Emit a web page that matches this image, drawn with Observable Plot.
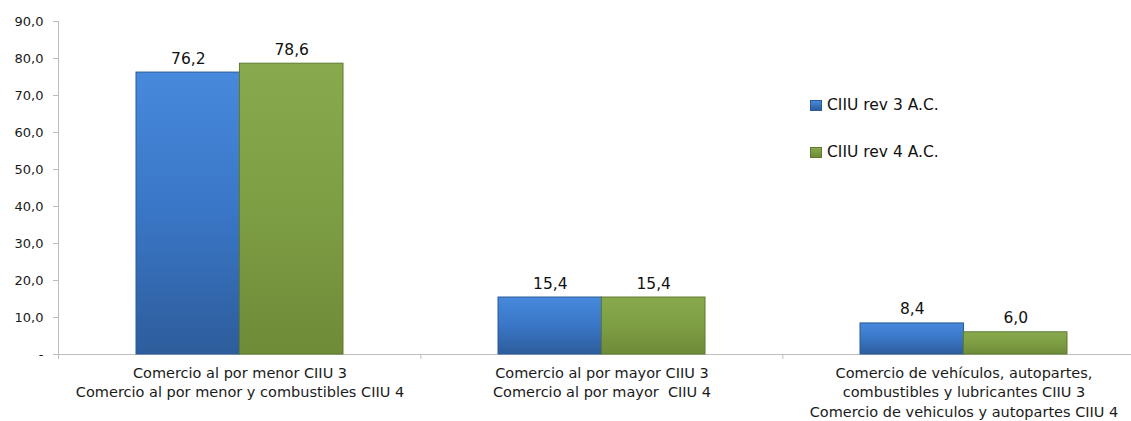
<!DOCTYPE html>
<html>
<head>
<meta charset="utf-8">
<script src="https://cdn.jsdelivr.net/npm/d3@7"></script>
<script src="https://cdn.jsdelivr.net/npm/@observablehq/plot@0.6"></script>
<style>
  body { margin: 0; background: #fff; font-family: "DejaVu Sans", Verdana, sans-serif; }
  #wrap { position: relative; width: 1131px; height: 421px; }
  #legend { position: absolute; left: 810px; top: 93px; font-size: 15.5px; color: #111; }
  #legend .row { display: flex; align-items: center; height: 24px; margin-bottom: 23px; }
  #legend .sw { width: 12px; height: 11px; margin-right: 5px; }
</style>
</head>
<body>
<svg width="0" height="0" style="position:absolute">
  <defs>
    <linearGradient id="gBlue" x1="0" y1="0" x2="0" y2="1">
      <stop offset="0" stop-color="#4789dc"/>
      <stop offset="0.5" stop-color="#3a76c6"/>
      <stop offset="1" stop-color="#2d5d9b"/>
    </linearGradient>
    <linearGradient id="gGreen" x1="0" y1="0" x2="0" y2="1">
      <stop offset="0" stop-color="#89a94d"/>
      <stop offset="0.5" stop-color="#7e9e44"/>
      <stop offset="1" stop-color="#6e8b38"/>
    </linearGradient>
  </defs>
</svg>
<div id="wrap">
  <div id="chart"></div>
  <div id="legend"></div>
</div>
<script>
// ---- data ----
const categories = ["menor", "mayor", "vehiculos"];
const categoryLabels = [
  "Comercio al por menor CIIU 3\nComercio al por menor y combustibles CIIU 4",
  "Comercio al por mayor CIIU 3\nComercio al por mayor  CIIU 4",
  "Comercio de vehículos, autopartes,\ncombustibles y lubricantes CIIU 3\nComercio de vehiculos y autopartes CIIU 4"
];
const seriesNames = ["CIIU rev 3 A.C.", "CIIU rev 4 A.C."];
const rev3Values = [76.2, 15.4, 8.4];
const rev4Values = [78.6, 15.4, 6.0];
const yTicks = [0, 10, 20, 30, 40, 50, 60, 70, 80, 90];
const seriesFills = ["url(#gBlue)", "url(#gGreen)"];
const seriesStrokes = ["#2b5a94", "#5f7b2f"];
const legendSwatch = ["linear-gradient(#4789dc,#2d5d9b)", "linear-gradient(#89a94d,#6e8b38)"];

// ---- build ----
const labelOf = new Map(categories.map((c, i) => [c, categoryLabels[i]]));
const rev3 = categories.map((c, i) => ({cat: c, value: rev3Values[i]}));
const rev4 = categories.map((c, i) => ({cat: c, value: rev4Values[i]}));
const fmt = d => d === 0 ? "-" : d.toFixed(1).replace(".", ",");

const width = 1131, height = 421;
const marginLeft = 58, marginRight = -14, marginTop = 21, marginBottom = 67;
const padInner = 0.429;
const step = (width - marginLeft - marginRight) / categories.length;
const bw = step * (1 - padInner);
const half = bw / 2;

const chart = Plot.plot({
  width, height,
  marginLeft, marginRight, marginTop, marginBottom,
  style: {fontFamily: "DejaVu Sans, Verdana, sans-serif", color: "#1a1a1a", background: "transparent"},
  x: {domain: categories, paddingInner: padInner, paddingOuter: padInner / 2, axis: null},
  y: {domain: [0, 90], axis: null},
  marks: [
    Plot.ruleY([0], {stroke: "#bdbdbd"}),
    Plot.ruleX(categories.slice(1), {x: d => d, dx: -step / 2, y1: 0, y2: 0, insetBottom: -5, stroke: "#bdbdbd"}),
    Plot.axisY({ticks: yTicks, tickFormat: fmt, tickSize: 5, tickPadding: 10, fontSize: 13, stroke: "#bdbdbd", fill: "#1a1a1a", label: null}),
    Plot.axisX({tickFormat: c => labelOf.get(c), tickSize: 0, tickPadding: 10, fontSize: 14.5, lineHeight: 1.33, fill: "#1a1a1a", label: null}),
    Plot.barY(rev3, {x: "cat", y: "value", fill: seriesFills[0], stroke: seriesStrokes[0], strokeWidth: 1, insetRight: half}),
    Plot.barY(rev4, {x: "cat", y: "value", fill: seriesFills[1], stroke: seriesStrokes[1], strokeWidth: 1, insetLeft: half}),
    Plot.text(rev3, {x: "cat", y: "value", text: d => fmt(d.value), dx: -half / 2, dy: -9, lineAnchor: "bottom", fontSize: 15.5, fill: "#111"}),
    Plot.text(rev4, {x: "cat", y: "value", text: d => fmt(d.value), dx: half / 2, dy: -9, lineAnchor: "bottom", fontSize: 15.5, fill: "#111"})
  ]
});
document.getElementById("chart").appendChild(chart);

// y axis line (left edge of plotting frame)
d3.select(chart).append("line")
  .attr("x1", marginLeft + 0.5).attr("x2", marginLeft + 0.5)
  .attr("y1", marginTop).attr("y2", height - marginBottom + 5)
  .attr("stroke", "#bdbdbd");

// legend
const legend = d3.select("#legend");
seriesNames.forEach((name, i) => {
  const row = legend.append("div").attr("class", "row");
  row.append("div").attr("class", "sw").style("background", legendSwatch[i]).style("border", `1px solid ${seriesStrokes[i]}`).style("box-sizing", "border-box");
  row.append("span").text(name);
});
</script>
</body>
</html>
